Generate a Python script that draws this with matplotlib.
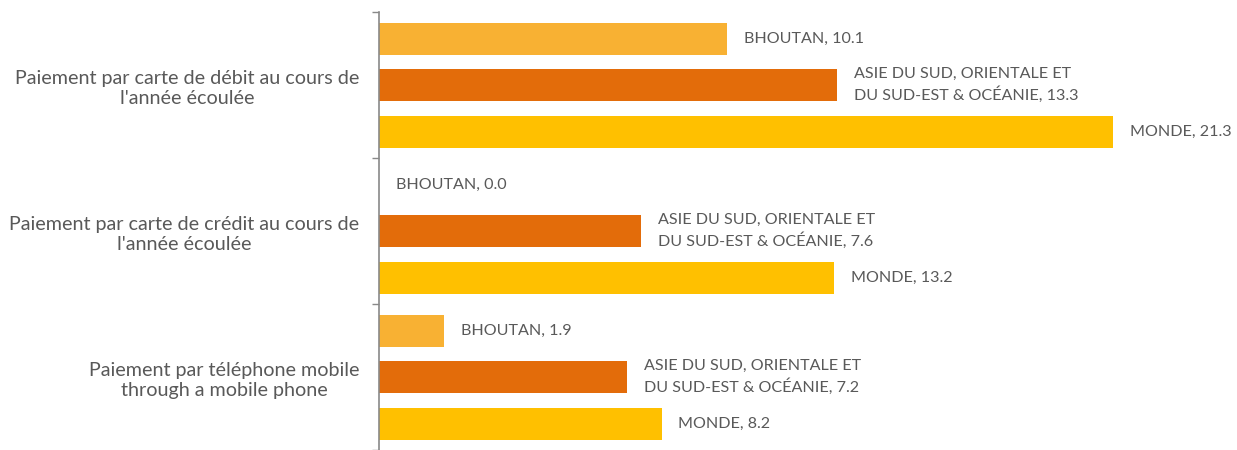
import matplotlib.pyplot as plt
from matplotlib.ticker import FixedLocator

# categories (top to bottom) and series
categories = [
    "Paiement par carte de débit au cours de\nl'année écoulée",
    "Paiement par carte de crédit au cours de\nl'année écoulée",
    "Paiement par téléphone mobile\nthrough a mobile phone",
]
series_names = ["BHOUTAN", "ASIE DU SUD, ORIENTALE ET\nDU SUD-EST & OCÉANIE", "MONDE"]
bhoutan = [10.1, 0.0, 1.9]
asie = [13.3, 7.6, 7.2]
monde = [21.3, 13.2, 8.2]
colors = ["#F8B133", "#E36C0A", "#FFC000"]

values = [bhoutan, asie, monde]

plt.rcParams['font.family'] = ['Lato', 'DejaVu Sans']
fig = plt.figure(figsize=(12.37, 4.5), dpi=100)
ax = fig.add_axes([379 / 1237, 0.0, 1 - 379 / 1237, 1 - 12 / 450])

group_step = 3.15
bar_h = 0.69
text_color = "#595959"

for i, (name, vals, col) in enumerate(zip(series_names, values, colors)):
    ys = [g * group_step + i for g in range(len(categories))]
    ax.barh(ys, vals, height=bar_h, color=col)
    for y, v in zip(ys, vals):
        ax.annotate(f"{name}, {v:.1f}", xy=(v, y), xytext=(12, 0),
                    textcoords="offset points", va="center", ha="left",
                    fontsize=11.6, color=text_color, linespacing=1.4)

ax.set_xlim(0, 24.9)
top = -0.58
bottom = top + group_step * len(categories)
ax.set_ylim(bottom, top)

# ticks at group boundaries, labels at group centres
ax.yaxis.set_major_locator(FixedLocator([top + g * group_step for g in range(len(categories) + 1)]))
ax.yaxis.set_major_formatter(plt.NullFormatter())
ax.yaxis.set_minor_locator(FixedLocator([g * group_step + 1 for g in range(len(categories))]))
ax.set_yticklabels(categories, minor=True, fontsize=14.2, color=text_color,
                   multialignment="center", linespacing=1.25)
ax.tick_params(axis="y", which="major", length=5, color="#898989", width=1)
ax.tick_params(axis="y", which="minor", length=0, pad=14)
ax.set_xticks([])

for s in ["top", "right", "bottom"]:
    ax.spines[s].set_visible(False)
ax.spines["left"].set_color("#898989")
ax.spines["left"].set_linewidth(1.2)

fig.savefig("out.png", dpi=100)
